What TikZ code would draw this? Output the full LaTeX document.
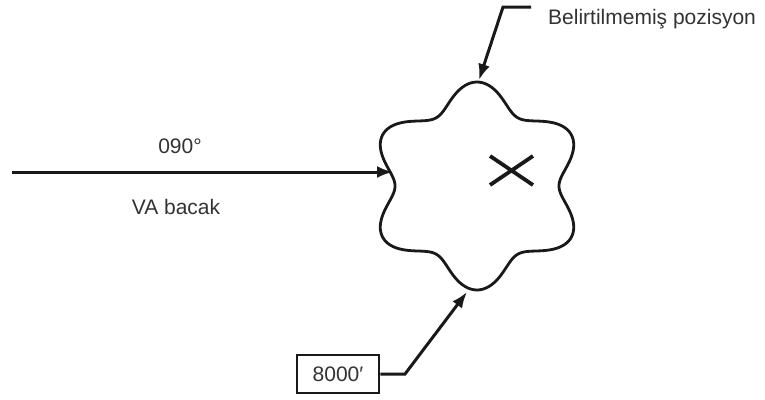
\documentclass[tikz,border=0pt]{standalone}
\usepackage{fontspec}
\setmainfont{Liberation Sans}
\usetikzlibrary{arrows.meta}
\begin{document}
\begin{tikzpicture}[x=1pt,y=-1pt,
  lbl/.style={inner sep=0pt, text=black!80, font=\fontsize{21}{25}\selectfont},
  conn/.style={line width=3pt, draw=black!90, -{Latex[length=16pt,width=12pt]}},
  blob/.style={line width=2.8pt, draw=black!90},
  cross/.style={line width=3.8pt, draw=black!90},
  boxed/.style={lbl, draw=black!90, line width=2.6pt, minimum width=82pt, minimum height=38pt},
  ]
\fill[white] (0,0) rectangle (765,399);
\useasboundingbox (0,0) rectangle (765,399);
% fix position shape
\draw[blob] plot[domain=0:360, samples=240, variable=\t]
  ({477+95.2*(1-0.139*cos(6*\t))*cos(\t)}, {186-91.3*(1-0.139*cos(6*\t))*sin(\t)}) -- cycle;
\draw[cross] (490,156) -- (533,185) (490,185) -- (533,156);
% points on the shape
\coordinate (ptop) at (479,80);
\coordinate (pleft) at (393,172);
\coordinate (pbot) at (467,292);
% labels
\node[lbl, anchor=west] (belirt) at (548,19) {Belirtilmemiş pozisyon};
\node[lbl] (hdg) at (180,146) {090°};
\node[lbl] (leg) at (176,207) {VA bacak};
\node[boxed] (alt) at (338,374) {8000′};
% connectors
\coordinate (lead) at (531,7);
\coordinate (bendtop) at (503,7);
\coordinate (vastart) at (12,172);
\coordinate (bendbot) at (405,374);
\draw[conn] (lead) -- (bendtop) -- (ptop);
\draw[conn] (vastart) -- (pleft);
\draw[conn] (alt.east) -- (bendbot) -- (pbot);
\end{tikzpicture}
\end{document}
